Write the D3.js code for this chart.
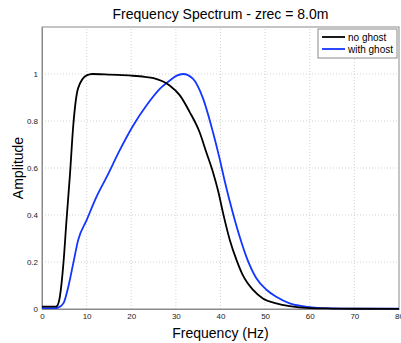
<!DOCTYPE html>
<html><head><meta charset="utf-8">
<script src="https://cdn.jsdelivr.net/npm/d3@7"></script>
<style>body{margin:0;background:#fff}svg{display:block}text{font-family:"Liberation Sans",Arial,sans-serif}</style>
</head><body><div id="c"></div>
<script>
const xTicks=[0,10,20,30,40,50,60,70,80];
const yTicks=[0,0.2,0.4,0.6,0.8,1];
const yTickLabels=["0","0.2","0.4","0.6","0.8","1"];
const seriesNames=["no ghost","with ghost"];
const freqNoGhost=[0,1,2,3,3.3,4.0,4.8,5.5,6.26,7.0,8.1,10,11.3,14,17,20,23,25,28.6,30.9,33.1,35.3,36.8,38.3,39.5,40.6,42.1,43.6,45.0,47.3,49.5,52.5,55.5,60,65,70,80];
const ampNoGhost=[0.01,0.01,0.01,0.01,0.012,0.052,0.194,0.38,0.57,0.78,0.94,0.994,1.0,0.998,0.996,0.993,0.988,0.982,0.951,0.909,0.838,0.753,0.668,0.583,0.5,0.406,0.293,0.208,0.144,0.081,0.045,0.024,0.012,0.004,0.002,0.001,0.0005];
const freqGhost=[0,1,2,3,3.6,4.8,5.9,7.0,8.1,10,12.2,14.5,17.4,20.4,23.4,26.4,28.6,30.2,31.6,33.8,36.1,38.3,39.8,40.9,42.8,44.3,45.8,48,50.3,52.5,55.5,58,61,65,70,80];
const ampGhost=[0.004,0.004,0.004,0.004,0.006,0.024,0.095,0.194,0.293,0.378,0.477,0.562,0.675,0.78,0.866,0.937,0.972,0.993,1.0,0.98,0.895,0.753,0.64,0.548,0.406,0.307,0.222,0.132,0.082,0.052,0.024,0.013,0.006,0.003,0.002,0.002];

const W=401,H=343,m={l:42,r:2,t:27,b:34};
const svg=d3.select("#c").append("svg").attr("width",W).attr("height",H);
const x=d3.scaleLinear().domain([0,80]).range([m.l,W-m.r]);
const y=d3.scaleLinear().domain([0,1.2]).range([H-m.b,m.t]);

// grid
const g=svg.append("g");
g.selectAll(".gx").data(xTicks.slice(1,-1)).enter().append("line")
 .attr("x1",d=>x(d)).attr("x2",d=>x(d)).attr("y1",y(0)).attr("y2",y(1.2))
 .attr("stroke","#c8c8c8").attr("stroke-dasharray","1,2").attr("stroke-width",0.8);
g.selectAll(".gy").data(yTicks.slice(1)).enter().append("line")
 .attr("x1",x(0)).attr("x2",x(80)).attr("y1",d=>y(d)).attr("y2",d=>y(d))
 .attr("stroke","#c8c8c8").attr("stroke-dasharray","1,2").attr("stroke-width",0.8);

// box
svg.append("rect").attr("x",x(0)).attr("y",y(1.2)).attr("width",x(80)-x(0)).attr("height",y(0)-y(1.2))
 .attr("fill","none").attr("stroke","#8a8a8a").attr("stroke-width",1);

// axes
const xa=svg.append("g").attr("transform",`translate(0,${y(0)})`)
 .call(d3.axisBottom(x).tickValues(xTicks).tickSize(0).tickPadding(4).tickFormat(d3.format("d")));
const ya=svg.append("g").attr("transform",`translate(${x(0)},0)`)
 .call(d3.axisLeft(y).tickValues(yTicks).tickSize(0).tickPadding(4).tickFormat((d,i)=>yTickLabels[i]));
[xa,ya].forEach(a=>{a.select(".domain").attr("stroke","#8a8a8a");a.selectAll("text").attr("font-size",8).attr("fill","#222").attr("font-family","Liberation Sans, Arial, sans-serif");});

// lines
const line=d3.line().curve(d3.curveMonotoneX);
const dNo=freqNoGhost.map((f,i)=>[x(f),y(ampNoGhost[i])]);
const dGh=freqGhost.map((f,i)=>[x(f),y(ampGhost[i])]);
svg.append("path").attr("d",line(dGh)).attr("fill","none").attr("stroke","#1336ff").attr("stroke-width",1.8);
svg.append("path").attr("d",line(dNo)).attr("fill","none").attr("stroke","#000").attr("stroke-width",1.8);

// title, labels
svg.append("text").attr("x",(x(0)+x(80))/2).attr("y",19).attr("text-anchor","middle").attr("font-size",14).text("Frequency Spectrum - zrec = 8.0m");
svg.append("text").attr("x",(x(0)+x(80))/2).attr("y",338).attr("text-anchor","middle").attr("font-size",14).text("Frequency (Hz)");
svg.append("text").attr("transform",`translate(23,${y(0.6)}) rotate(-90)`).attr("text-anchor","middle").attr("font-size",14).text("Amplitude");

// legend
const lg=svg.append("g");
lg.append("rect").attr("x",318).attr("y",29).attr("width",79).attr("height",29).attr("fill","#fff").attr("stroke","#8a8a8a");
const cols=["#000","#1336ff"];
seriesNames.forEach((n,i)=>{
 const yy=37+i*12;
 lg.append("line").attr("x1",322).attr("x2",345).attr("y1",yy).attr("y2",yy).attr("stroke",cols[i]).attr("stroke-width",1.8);
 lg.append("text").attr("x",348).attr("y",yy+3.5).attr("font-size",10).text(n);
});
</script></body></html>
